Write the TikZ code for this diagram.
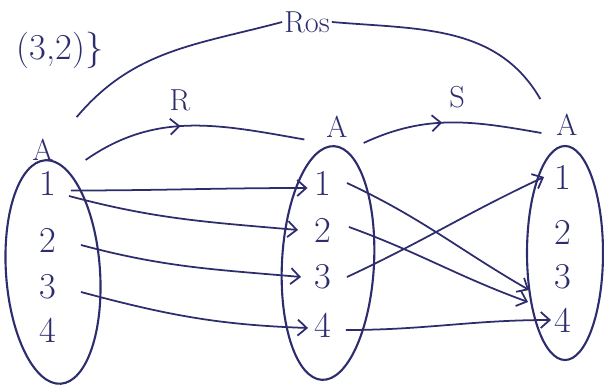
\documentclass[tikz,border=0pt]{standalone}
\usetikzlibrary{arrows.meta,decorations.markings}
\definecolor{ink}{RGB}{45,45,110}
\tikzset{
	elt/.style={text=ink,font=\huge,inner sep=1pt},
	lab/.style={text=ink,font=\LARGE,inner sep=1pt},
	rel/.style={ink,line width=1pt,-{Straight Barb[length=1.8mm,width=3.2mm]}},
	relarc/.style={ink,line width=1pt},
	midarrow/.style={postaction={decorate},decoration={markings,mark=at position .45 with {\arrow{Straight Barb[length=1.8mm,width=3.2mm]}}}},
}
\begin{document}
\begin{tikzpicture}[x=.02cm,y=.02cm]
		\useasboundingbox (0,0) rectangle (604,385);
		\draw[ink,line width=1.2pt,rotate around={4:(53,113)}] (53,113) ellipse [x radius=47,y radius=112];
		\draw[ink,line width=1.2pt,rotate around={-3:(328,122)}] (328,122) ellipse [x radius=46,y radius=117];
		\draw[ink,line width=1.2pt] (565,132) ellipse [x radius=38,y radius=107];
		\foreach \n/\y in {1/202,2/145,3/98,4/55}{
			\node[elt] (a\n) at (48,\y) {\n};}
		\foreach \n/\y in {1/202,2/155,3/108,4/60}{
			\node[elt] (b\n) at (323,\y) {\n};}
		\foreach \n/\y in {1/208,2/153,3/108,4/65}{
			\node[elt] (c\n) at (563,\y) {\n};}
		\node[lab] (setA) at (43,235) {A};
		\node[lab] (setB) at (337,258) {A};
		\node[lab] (setC) at (567,260) {A};
		\node[lab] (labR) at (180,285) {R};
		\node[lab] (labS) at (457,288) {S};
		\node[lab] (labRoS) at (307,363) {Ros};
		\node[elt] (frag) at (60,335) {(3,2)\}};
		
		% R
		\draw[rel] ([xshift=2.5mm,yshift=-1.5mm]a1.east) to[out=0,in=180] ([xshift=-1mm,yshift=-1mm]b1.west);
		\draw[rel] ([xshift=2.1mm,yshift=-2.6mm]a1.east) to[out=-15,in=175] ([xshift=-2.9mm]b2.west);
		\draw[rel] ([xshift=4.5mm,yshift=-1mm]a2.east) to[out=-15,in=175] ([xshift=-2.3mm]b3.west);
		\draw[rel] ([xshift=4.5mm,yshift=-1mm]a3.east) to[out=-15,in=178] ([xshift=-.9mm,yshift=-.6mm]b4.west);
		% S
		\draw[rel] ([xshift=2.7mm]b1.east) to[out=-25,in=150] ([xshift=-4.7mm,yshift=-2.6mm]c3.west);
		\draw[rel] ([xshift=3.1mm,yshift=.6mm]b2.east) to[out=-20,in=160] ([xshift=-4.9mm,yshift=3.6mm]c4.west);
		\draw[rel] ([xshift=2.7mm]b3.east) to[out=25,in=205] ([xshift=-1.7mm]c1.west);
		\draw[rel] ([xshift=2.5mm,yshift=-1mm]b4.east) to[out=0,in=180] ([xshift=-.3mm]c4.west);
		
		\draw[relarc,midarrow] ([xshift=6mm,yshift=-2mm]setA.east) to[out=35,in=170] ([xshift=-4mm,yshift=-2.5mm]setB.west);
		\draw[relarc,midarrow] ([xshift=2.8mm,yshift=-3.2mm]setB.east) to[out=25,in=170] ([xshift=-2.6mm,yshift=-1.6mm]setC.west);
		\draw[relarc] ([xshift=4.2mm,yshift=4mm]setA.north east) to[out=50,in=195] (labRoS.west);
		\draw[relarc] (labRoS.east) to[out=-5,in=120] ([xshift=-2.8mm,yshift=2.6mm]setC.north west);
	\end{tikzpicture}
\end{document}
